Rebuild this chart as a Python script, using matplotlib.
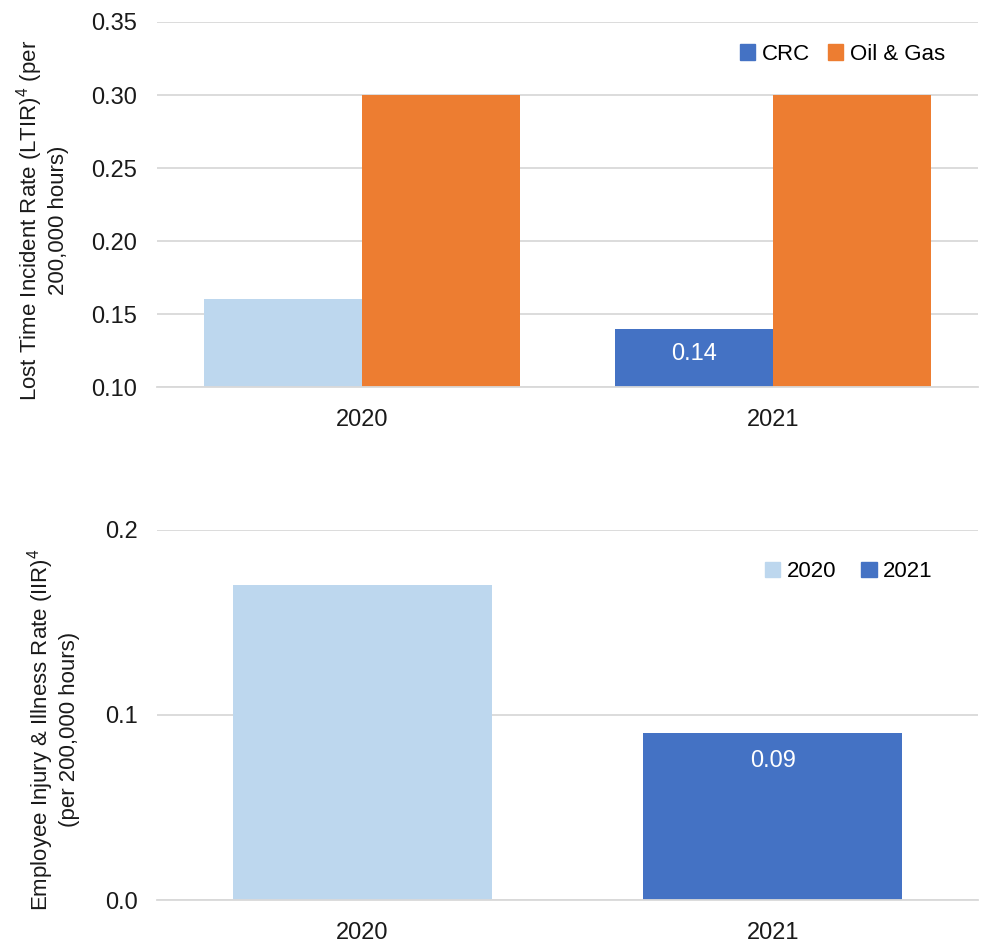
import matplotlib
matplotlib.use("Agg")
import matplotlib.pyplot as plt
import numpy as np
from matplotlib.patches import Patch

plt.rcParams['font.family'] = ['Liberation Sans', 'DejaVu Sans']
plt.rcParams['mathtext.fontset'] = 'custom'
plt.rcParams['mathtext.rm'] = 'Liberation Sans'
plt.rcParams['mathtext.it'] = 'Liberation Sans'

years = ["2020", "2021"]
ltir_crc = [0.16, 0.14]
ltir_oil_gas = [0.30, 0.30]
iir_values = [0.17, 0.09]

LIGHT = "#BDD7EE"
BLUE = "#4472C4"
ORANGE = "#ED7D31"
GRID = "#D9D9D9"
TXT = "#1a1a1a"

TICK_FS = 17
LABEL_FS = 16
LEGEND_FS = 16

fig = plt.figure(figsize=(9.87, 9.44), dpi=100)
ax1 = fig.add_axes([0.159, 0.590, 0.832, 0.3867])
ax2 = fig.add_axes([0.159, 0.0466, 0.832, 0.392])

def style(ax):
    for s in ["top", "right", "left"]:
        ax.spines[s].set_visible(False)
    ax.spines["bottom"].set_color(GRID)
    ax.spines["bottom"].set_linewidth(1.3)
    ax.yaxis.grid(True, color=GRID, linewidth=1.3)
    ax.set_axisbelow(True)
    ax.tick_params(axis="both", length=0, labelsize=TICK_FS, colors=TXT)
    ax.tick_params(axis="x", pad=16)
    ax.tick_params(axis="y", pad=14)

# Top: lost time incident rate
x = np.arange(len(years))
w = 0.385
crc_colors = [LIGHT, BLUE]
ax1.bar(x - w / 2, ltir_crc, w, color=crc_colors)
ax1.bar(x + w / 2, ltir_oil_gas, w, color=ORANGE)
ax1.set_xlim(-0.5, 1.5)
ax1.set_ylim(0.10, 0.35)
yt1 = [0.10, 0.15, 0.20, 0.25, 0.30, 0.35]
ax1.set_yticks(yt1)
ax1.set_yticklabels([f"{v:.2f}" for v in yt1])
ax1.set_xticks(x)
ax1.set_xticklabels(years)
style(ax1)
ax1.text(x[1] - w / 2, ltir_crc[1] - 0.0175, f"{ltir_crc[1]:.2f}",
         ha="center", va="center", color="white", fontsize=TICK_FS)
ax1.set_ylabel("Lost Time Incident Rate (LTIR)$^{4}$ (per\n200,000 hours)",
               fontsize=LABEL_FS, color=TXT, labelpad=16, linespacing=1.2)
ax1.yaxis.label.set_y(0.456)
ax1.legend(handles=[Patch(color=BLUE, label="CRC"), Patch(color=ORANGE, label="Oil & Gas")],
           loc="center right", bbox_to_anchor=(0.96, 0.912), ncol=2, frameon=False,
           fontsize=LEGEND_FS, handlelength=0.7, handleheight=0.7, handletextpad=0.3,
           columnspacing=0.8, borderaxespad=0, borderpad=0)

# Bottom: employee injury & illness rate
w2 = 0.63
ax2.bar(x, iir_values, w2, color=[LIGHT, BLUE])
ax2.set_xlim(-0.5, 1.5)
ax2.set_ylim(0.0, 0.2)
ax2.set_yticks([0.0, 0.1, 0.2])
ax2.set_yticklabels(["0.0", "0.1", "0.2"])
ax2.set_xticks(x)
ax2.set_xticklabels(years)
style(ax2)
ax2.text(x[1], iir_values[1] - 0.0146, f"{iir_values[1]:.2f}",
         ha="center", va="center", color="white", fontsize=TICK_FS)
ax2.set_ylabel("Employee Injury & Illness Rate (IIR)$^{4}$\n(per 200,000 hours)",
               fontsize=LABEL_FS, color=TXT, labelpad=18, linespacing=1.2)
ax2.yaxis.label.set_y(0.46)
ax2.legend(handles=[Patch(color=LIGHT, label="2020"), Patch(color=BLUE, label="2021")],
           loc="center right", bbox_to_anchor=(0.945, 0.887), ncol=2, frameon=False,
           fontsize=LEGEND_FS, handlelength=0.7, handleheight=0.7, handletextpad=0.3,
           columnspacing=1.1, borderaxespad=0, borderpad=0)

fig.savefig("out.png", dpi=100)
